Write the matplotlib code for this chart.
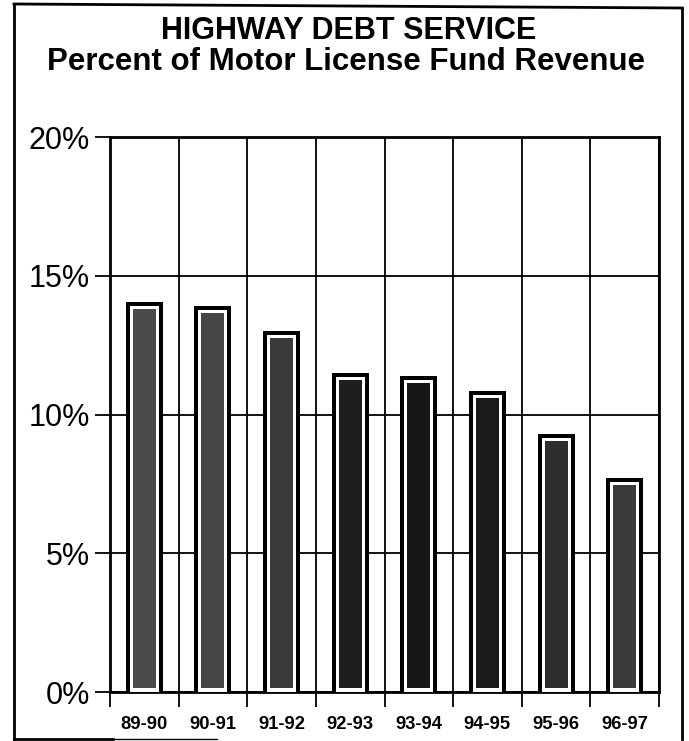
import numpy as np
import matplotlib
matplotlib.use("Agg")
import matplotlib.pyplot as plt
from matplotlib.lines import Line2D
from matplotlib.ticker import FixedLocator, FuncFormatter

years = ["89-90", "90-91", "91-92", "92-93", "93-94", "94-95", "95-96", "96-97"]
debt_pct = [14.05, 13.9, 13.0, 11.5, 11.4, 10.85, 9.3, 7.7]
shades = ["#4a4a4a", "#454545", "#3a3a3a", "#1e1e1e", "#161616", "#1a1a1a", "#2e2e2e", "#3a3a3a"]

W, H = 689, 741
plt.rcParams["font.family"] = ["Liberation Sans", "DejaVu Sans"]

fig = plt.figure(figsize=(W / 100, H / 100), dpi=100)
left, right, top, bottom = 110, 659, 137, 692
ax = fig.add_axes([left / W, 1 - bottom / H, (right - left) / W, (bottom - top) / H])

x = np.arange(len(years))
ax.set_xlim(-0.5, len(years) - 0.5)
ax.set_ylim(0, 20)

# pixel -> data sizes for the bar outline / white ring
px = len(years) / (right - left)
py = 20 / (bottom - top)
bar_w = 0.54
ax.bar(x, debt_pct, width=bar_w, color="black", zorder=2)
ax.bar(x, np.array(debt_pct) - 4 * py, width=bar_w - 8 * px, color="white", zorder=3)
ax.bar(x, np.array(debt_pct) - 11 * py, bottom=4 * py, width=bar_w - 14 * px,
       color=shades, zorder=4)

# grid lines at category boundaries and every 5%
ax.xaxis.set_major_locator(FixedLocator(np.arange(-0.5, len(years), 1)))
ax.xaxis.set_major_formatter(FuncFormatter(lambda v, p: ""))
ax.xaxis.set_minor_locator(FixedLocator(x))
ax.set_xticklabels(years, minor=True)
ax.set_yticks([0, 5, 10, 15, 20])
ax.yaxis.set_major_formatter(FuncFormatter(lambda v, p: f"{v:.0f}%"))
ax.grid(True, color="black", lw=1.3, zorder=1)
ax.set_axisbelow(True)

ax.tick_params(axis="x", which="major", direction="out", length=11, width=1.3)
ax.tick_params(axis="x", which="minor", length=0, pad=17, labelsize=13.2)
for lab in ax.get_xticklabels(minor=True):
    lab.set_fontweight("bold")
ax.tick_params(axis="y", direction="out", length=11, width=1.3, pad=3.5, labelsize=22)
for s in ax.spines.values():
    s.set_linewidth(2.0)

fig.text(349 / W, 1 - 39 / H, "HIGHWAY DEBT SERVICE", ha="center", va="baseline",
         fontsize=22, fontweight="bold")
fig.text(346 / W, 1 - 70 / H, "Percent of Motor License Fund Revenue", ha="center",
         va="baseline", fontsize=22.5, fontweight="bold")

# outer border around the whole chart
def frame_line(xs, ys, lw):
    fig.add_artist(Line2D([v / W for v in xs], [1 - v / H for v in ys],
                          transform=fig.transFigure, color="black", lw=lw))

frame_line([14, 14], [4, 739], 2.0)
frame_line([14, 682], [4, 8], 2.0)
frame_line([682, 682], [8, 739], 2.0)
frame_line([14, 113], [739, 739], 2.0)
frame_line([113, 217], [739, 739], 1.0)

fig.savefig("out.png", dpi=100)
